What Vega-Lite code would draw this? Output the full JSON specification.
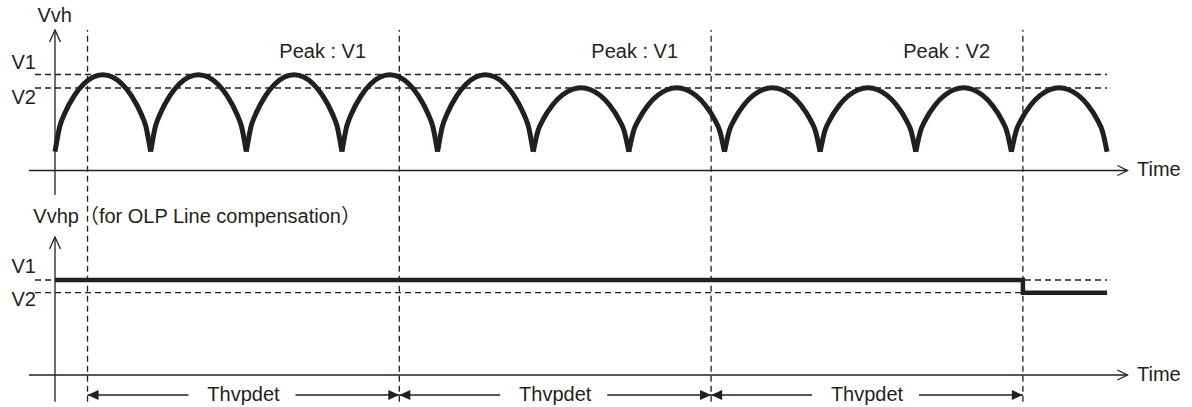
{
  "$schema": "https://vega.github.io/schema/vega-lite/v6.json",
  "width": 1192,
  "height": 407,
  "autosize": {"type": "fit", "contains": "padding"},
  "padding": 0,
  "background": "white",
  "config": {
    "view": {"stroke": null},
    "text": {"font": "'Liberation Sans', 'Noto Sans CJK JP', sans-serif", "fontSize": 20, "fill": "#231f20", "baseline": "middle"}
  },
  "datasets": {
    "arches": [
      {"arch": 0, "t": 0, "v": 255.3}, {"arch": 0, "t": 0.5, "v": 280.6}, {"arch": 0, "t": 1, "v": 293.3}, {"arch": 0, "t": 2, "v": 311.2}, {"arch": 0, "t": 3, "v": 323.0}, {"arch": 0, "t": 4, "v": 329.9}, {"arch": 0, "t": 5, "v": 332.2}, {"arch": 0, "t": 6, "v": 329.9}, {"arch": 0, "t": 7, "v": 323.0}, {"arch": 0, "t": 8, "v": 311.2}, {"arch": 0, "t": 9, "v": 293.3}, {"arch": 0, "t": 9.5, "v": 280.6}, {"arch": 0, "t": 10, "v": 255.3},
      {"arch": 1, "t": 10, "v": 255.3}, {"arch": 1, "t": 10.5, "v": 280.6}, {"arch": 1, "t": 11, "v": 293.3}, {"arch": 1, "t": 12, "v": 311.2}, {"arch": 1, "t": 13, "v": 323.0}, {"arch": 1, "t": 14, "v": 329.9}, {"arch": 1, "t": 15, "v": 332.2}, {"arch": 1, "t": 16, "v": 329.9}, {"arch": 1, "t": 17, "v": 323.0}, {"arch": 1, "t": 18, "v": 311.2}, {"arch": 1, "t": 19, "v": 293.3}, {"arch": 1, "t": 19.5, "v": 280.6}, {"arch": 1, "t": 20, "v": 255.3},
      {"arch": 2, "t": 20, "v": 255.3}, {"arch": 2, "t": 20.5, "v": 280.6}, {"arch": 2, "t": 21, "v": 293.3}, {"arch": 2, "t": 22, "v": 311.2}, {"arch": 2, "t": 23, "v": 323.0}, {"arch": 2, "t": 24, "v": 329.9}, {"arch": 2, "t": 25, "v": 332.2}, {"arch": 2, "t": 26, "v": 329.9}, {"arch": 2, "t": 27, "v": 323.0}, {"arch": 2, "t": 28, "v": 311.2}, {"arch": 2, "t": 29, "v": 293.3}, {"arch": 2, "t": 29.5, "v": 280.6}, {"arch": 2, "t": 30, "v": 255.3},
      {"arch": 3, "t": 30, "v": 255.3}, {"arch": 3, "t": 30.5, "v": 280.6}, {"arch": 3, "t": 31, "v": 293.3}, {"arch": 3, "t": 32, "v": 311.2}, {"arch": 3, "t": 33, "v": 323.0}, {"arch": 3, "t": 34, "v": 329.9}, {"arch": 3, "t": 35, "v": 332.2}, {"arch": 3, "t": 36, "v": 329.9}, {"arch": 3, "t": 37, "v": 323.0}, {"arch": 3, "t": 38, "v": 311.2}, {"arch": 3, "t": 39, "v": 293.3}, {"arch": 3, "t": 39.5, "v": 280.6}, {"arch": 3, "t": 40, "v": 255.3},
      {"arch": 4, "t": 40, "v": 255.3}, {"arch": 4, "t": 40.5, "v": 280.6}, {"arch": 4, "t": 41, "v": 293.3}, {"arch": 4, "t": 42, "v": 311.2}, {"arch": 4, "t": 43, "v": 323.0}, {"arch": 4, "t": 44, "v": 329.9}, {"arch": 4, "t": 45, "v": 332.2}, {"arch": 4, "t": 46, "v": 329.9}, {"arch": 4, "t": 47, "v": 323.0}, {"arch": 4, "t": 48, "v": 311.2}, {"arch": 4, "t": 49, "v": 293.3}, {"arch": 4, "t": 49.5, "v": 280.6}, {"arch": 4, "t": 50, "v": 255.3},
      {"arch": 5, "t": 50, "v": 255.3}, {"arch": 5, "t": 50.5, "v": 276.3}, {"arch": 5, "t": 51, "v": 286.9}, {"arch": 5, "t": 52, "v": 301.8}, {"arch": 5, "t": 53, "v": 311.6}, {"arch": 5, "t": 54, "v": 317.3}, {"arch": 5, "t": 55, "v": 319.2}, {"arch": 5, "t": 56, "v": 317.3}, {"arch": 5, "t": 57, "v": 311.6}, {"arch": 5, "t": 58, "v": 301.8}, {"arch": 5, "t": 59, "v": 286.9}, {"arch": 5, "t": 59.5, "v": 276.3}, {"arch": 5, "t": 60, "v": 255.3},
      {"arch": 6, "t": 60, "v": 255.3}, {"arch": 6, "t": 60.5, "v": 276.3}, {"arch": 6, "t": 61, "v": 286.9}, {"arch": 6, "t": 62, "v": 301.8}, {"arch": 6, "t": 63, "v": 311.6}, {"arch": 6, "t": 64, "v": 317.3}, {"arch": 6, "t": 65, "v": 319.2}, {"arch": 6, "t": 66, "v": 317.3}, {"arch": 6, "t": 67, "v": 311.6}, {"arch": 6, "t": 68, "v": 301.8}, {"arch": 6, "t": 69, "v": 286.9}, {"arch": 6, "t": 69.5, "v": 276.3}, {"arch": 6, "t": 70, "v": 255.3},
      {"arch": 7, "t": 70, "v": 255.3}, {"arch": 7, "t": 70.5, "v": 276.3}, {"arch": 7, "t": 71, "v": 286.9}, {"arch": 7, "t": 72, "v": 301.8}, {"arch": 7, "t": 73, "v": 311.6}, {"arch": 7, "t": 74, "v": 317.3}, {"arch": 7, "t": 75, "v": 319.2}, {"arch": 7, "t": 76, "v": 317.3}, {"arch": 7, "t": 77, "v": 311.6}, {"arch": 7, "t": 78, "v": 301.8}, {"arch": 7, "t": 79, "v": 286.9}, {"arch": 7, "t": 79.5, "v": 276.3}, {"arch": 7, "t": 80, "v": 255.3},
      {"arch": 8, "t": 80, "v": 255.3}, {"arch": 8, "t": 80.5, "v": 276.3}, {"arch": 8, "t": 81, "v": 286.9}, {"arch": 8, "t": 82, "v": 301.8}, {"arch": 8, "t": 83, "v": 311.6}, {"arch": 8, "t": 84, "v": 317.3}, {"arch": 8, "t": 85, "v": 319.2}, {"arch": 8, "t": 86, "v": 317.3}, {"arch": 8, "t": 87, "v": 311.6}, {"arch": 8, "t": 88, "v": 301.8}, {"arch": 8, "t": 89, "v": 286.9}, {"arch": 8, "t": 89.5, "v": 276.3}, {"arch": 8, "t": 90, "v": 255.3},
      {"arch": 9, "t": 90, "v": 255.3}, {"arch": 9, "t": 90.5, "v": 276.3}, {"arch": 9, "t": 91, "v": 286.9}, {"arch": 9, "t": 92, "v": 301.8}, {"arch": 9, "t": 93, "v": 311.6}, {"arch": 9, "t": 94, "v": 317.3}, {"arch": 9, "t": 95, "v": 319.2}, {"arch": 9, "t": 96, "v": 317.3}, {"arch": 9, "t": 97, "v": 311.6}, {"arch": 9, "t": 98, "v": 301.8}, {"arch": 9, "t": 99, "v": 286.9}, {"arch": 9, "t": 99.5, "v": 276.3}, {"arch": 9, "t": 100, "v": 255.3},
      {"arch": 10, "t": 100, "v": 255.3}, {"arch": 10, "t": 100.5, "v": 276.3}, {"arch": 10, "t": 101, "v": 286.9}, {"arch": 10, "t": 102, "v": 301.8}, {"arch": 10, "t": 103, "v": 311.6}, {"arch": 10, "t": 104, "v": 317.3}, {"arch": 10, "t": 105, "v": 319.2}, {"arch": 10, "t": 106, "v": 317.3}, {"arch": 10, "t": 107, "v": 311.6}, {"arch": 10, "t": 108, "v": 301.8}, {"arch": 10, "t": 109, "v": 286.9}, {"arch": 10, "t": 109.5, "v": 276.3}, {"arch": 10, "t": 110, "v": 255.3}
    ],
    "hold": [
      {"t": 0, "v": 127},
      {"t": 101.2, "v": 114.3},
      {"t": 110, "v": 114.3}
    ],
    "axes": [
      {"t": -2.72, "t2": 112.13, "v": 236.5, "v2": 236.5},
      {"t": -2.72, "t2": 112.13, "v": 32, "v2": 32},
      {"t": 0, "t2": 0, "v": 212, "v2": 377},
      {"t": 0, "t2": 0, "v": 5.3, "v2": 170}
    ],
    "levels": [
      {"t": -2.09, "t2": 110, "v": 332.5},
      {"t": -2.09, "t2": 110, "v": 319},
      {"t": -2.09, "t2": 110, "v": 127},
      {"t": -2.09, "t2": 110, "v": 114.3}
    ],
    "markers": [
      {"t": 3.4, "v": 5.3, "v2": 377},
      {"t": 36.0, "v": 5.3, "v2": 377},
      {"t": 68.6, "v": 5.3, "v2": 377},
      {"t": 101.2, "v": 5.3, "v2": 377}
    ],
    "spans": [
      {"t": 3.4, "t2": 13.95, "v": 12},
      {"t": 25.14, "t2": 36.0, "v": 12},
      {"t": 36.0, "t2": 46.55, "v": 12},
      {"t": 57.74, "t2": 68.6, "v": 12},
      {"t": 68.6, "t2": 79.15, "v": 12},
      {"t": 90.34, "t2": 101.2, "v": 12}
    ],
    "headsLeft": [
      {"t": 3.4, "v": 12}, {"t": 36.0, "v": 12}, {"t": 68.6, "v": 12}
    ],
    "headsRight": [
      {"t": 36.0, "v": 12}, {"t": 68.6, "v": 12}, {"t": 101.2, "v": 12}
    ],
    "upArrows": [
      {"t": 0, "v": 377}, {"t": 0, "v": 170}
    ],
    "rightArrows": [
      {"t": 112.13, "v": 236.5}, {"t": 112.13, "v": 32}
    ],
    "labelsLeft": [
      {"label": "Vvh", "t": -1.83, "v": 390.8},
      {"label": "V1", "t": -4.55, "v": 344.1},
      {"label": "V2", "t": -4.55, "v": 309.1},
      {"label": "Time", "t": 113.13, "v": 236.6},
      {"label": "Vvhp（for OLP Line compensation）", "t": -2.27, "v": 190},
      {"label": "V1", "t": -4.55, "v": 139.8},
      {"label": "V2", "t": -4.55, "v": 106.8},
      {"label": "Time", "t": 113.13, "v": 31.8}
    ],
    "peaks": [
      {"label": "Peak : V1", "t": 32.52, "v": 355.1},
      {"label": "Peak : V1", "t": 65.14, "v": 355.1},
      {"label": "Peak : V2", "t": 97.76, "v": 355.1}
    ],
    "spanLabels": [
      {"label": "Thvpdet", "t": 19.7, "v": 12},
      {"label": "Thvpdet", "t": 52.3, "v": 12},
      {"label": "Thvpdet", "t": 84.9, "v": 12}
    ]
  },
  "encoding": {
    "x": {"field": "t", "type": "quantitative", "scale": {"domain": [-5.751, 118.88], "nice": false, "zero": false}, "axis": null},
    "y": {"field": "v", "type": "quantitative", "scale": {"domain": [0, 407], "nice": false, "zero": false}, "axis": null}
  },
  "layer": [
    {
      "data": {"name": "markers"},
      "mark": {"type": "rule", "stroke": "#231f20", "strokeWidth": 1.3, "strokeDash": [6, 4]},
      "encoding": {"y2": {"field": "v2"}}
    },
    {
      "data": {"name": "levels"},
      "mark": {"type": "rule", "stroke": "#231f20", "strokeWidth": 1.3, "strokeDash": [6, 4]},
      "encoding": {"x2": {"field": "t2"}}
    },
    {
      "data": {"name": "axes"},
      "mark": {"type": "rule", "stroke": "#231f20", "strokeWidth": 1.3},
      "encoding": {"x2": {"field": "t2"}, "y2": {"field": "v2"}}
    },
    {
      "data": {"name": "spans"},
      "mark": {"type": "rule", "stroke": "#231f20", "strokeWidth": 1.3},
      "encoding": {"x2": {"field": "t2"}}
    },
    {
      "data": {"name": "arches"},
      "mark": {"type": "line", "interpolate": "monotone", "stroke": "#231f20", "strokeWidth": 5, "strokeCap": "butt"},
      "encoding": {"detail": {"field": "arch", "type": "nominal"}}
    },
    {
      "data": {"name": "hold"},
      "mark": {"type": "line", "interpolate": "step-after", "stroke": "#231f20", "strokeWidth": 4.5, "strokeCap": "butt"},
      "encoding": {}
    },
    {
      "data": {"name": "headsLeft"},
      "mark": {"type": "point", "shape": "M0,0L2.45,-1.1L2.45,1.1Z", "size": 81, "filled": true, "fill": "#231f20", "strokeWidth": 0, "opacity": 1},
      "encoding": {}
    },
    {
      "data": {"name": "headsRight"},
      "mark": {"type": "point", "shape": "M0,0L-2.45,-1.1L-2.45,1.1Z", "size": 81, "filled": true, "fill": "#231f20", "strokeWidth": 0, "opacity": 1},
      "encoding": {}
    },
    {
      "data": {"name": "upArrows"},
      "mark": {"type": "point", "shape": "M-1,2.2L0,0L1,2.2", "size": 121, "filled": false, "stroke": "#231f20", "strokeWidth": 1.3, "opacity": 1},
      "encoding": {}
    },
    {
      "data": {"name": "rightArrows"},
      "mark": {"type": "point", "shape": "M-2,-1L0,0L-2,1", "size": 100, "filled": false, "stroke": "#231f20", "strokeWidth": 1.3, "opacity": 1},
      "encoding": {}
    },
    {
      "data": {"name": "labelsLeft"},
      "mark": {"type": "text", "align": "left"},
      "encoding": {"text": {"field": "label"}}
    },
    {
      "data": {"name": "peaks"},
      "mark": {"type": "text", "align": "right"},
      "encoding": {"text": {"field": "label"}}
    },
    {
      "data": {"name": "spanLabels"},
      "mark": {"type": "text", "align": "center"},
      "encoding": {"text": {"field": "label"}}
    }
  ]
}
